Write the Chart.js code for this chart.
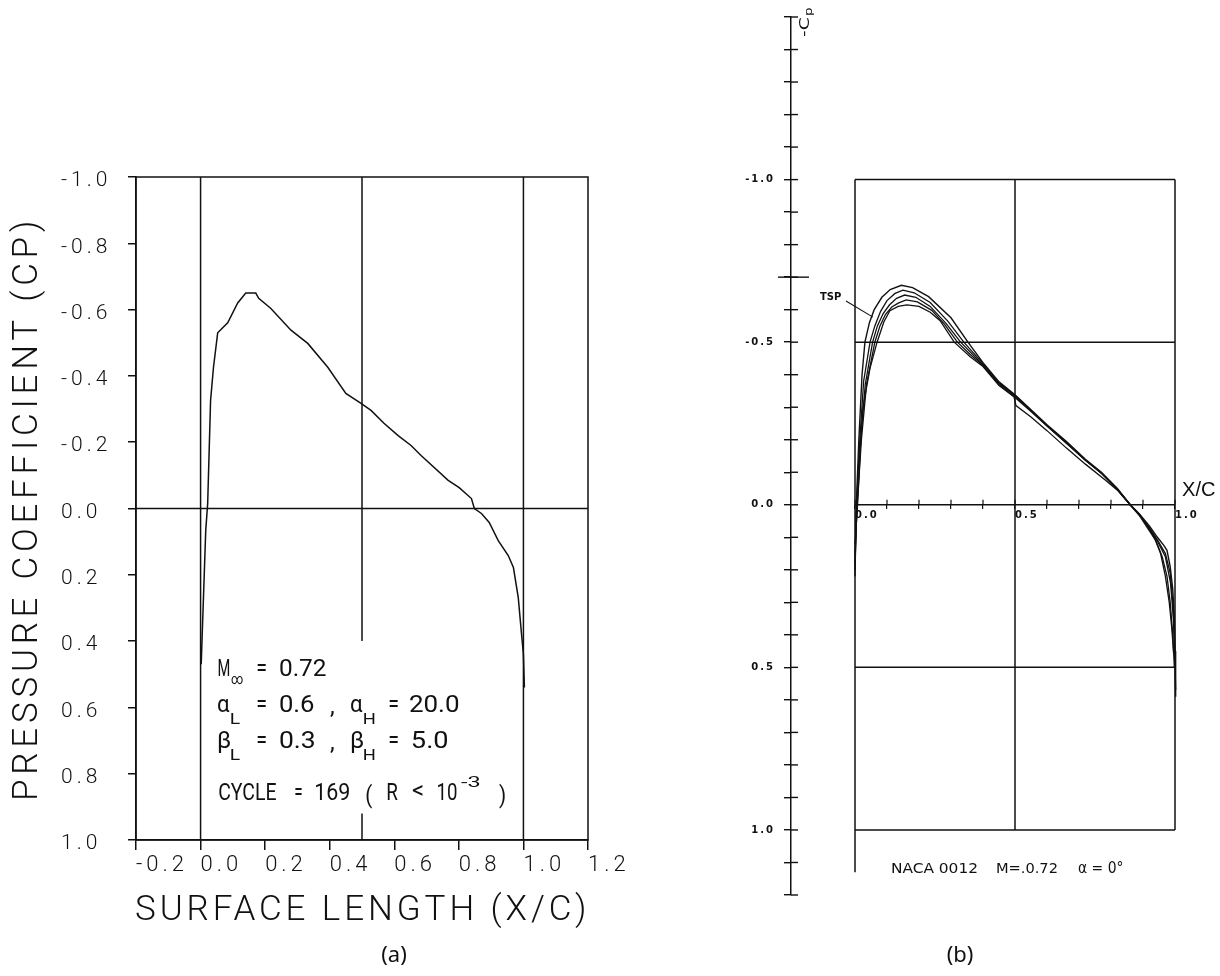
<!DOCTYPE html>
<html>
<head>
<meta charset="utf-8">
<script src="https://cdn.jsdelivr.net/npm/chart.js@4.4.1/dist/chart.umd.min.js"></script>
<style>
  html, body { margin: 0; padding: 0; background: #fff; }
  #wrap { position: relative; width: 1220px; height: 976px; overflow: hidden; background: #fff; }
  #cA { position: absolute; left: 0; top: 0; }
  #cB { position: absolute; left: 610px; top: 0; }
</style>
</head>
<body>
<div id="wrap">
  <canvas id="cA" width="650" height="976"></canvas>
  <canvas id="cB" width="610" height="976"></canvas>
</div>
<script>
// ---------------- Panel (a): pressure coefficient vs surface length ----------------
const surfaceX   = [0.002, 0.016, 0.022, 0.031, 0.040, 0.053, 0.084, 0.115, 0.140, 0.171, 0.180, 0.217, 0.280, 0.332, 0.394, 0.450, 0.497, 0.528, 0.568, 0.612, 0.652, 0.683, 0.767, 0.801, 0.839, 0.848, 0.870, 0.894, 0.922, 0.953, 0.969, 0.984, 0.994, 1.000, 1.003];
const pressureCp = [0.470, 0.066, -0.015, -0.326, -0.426, -0.530, -0.560, -0.620, -0.650, -0.650, -0.634, -0.604, -0.538, -0.498, -0.426, -0.347, -0.317, -0.296, -0.257, -0.220, -0.190, -0.160, -0.085, -0.063, -0.030, 0.000, 0.015, 0.042, 0.097, 0.142, 0.178, 0.269, 0.378, 0.440, 0.540];

const xTicksA      = [-0.2, 0.0, 0.2, 0.4, 0.6, 0.8, 1.0, 1.2];
const xTickLabelsA = ['-0.2', '0.0', '0.2', '0.4', '0.6', '0.8', '1.0', '1.2'];
const yTicksA      = [-1.0, -0.8, -0.6, -0.4, -0.2, 0.0, 0.2, 0.4, 0.6, 0.8, 1.0];
const yTickLabelsA = ['-1.0', '-0.8', '-0.6', '-0.4', '-0.2', '0.0', '0.2', '0.4', '0.6', '0.8', '1.0'];

// ---------------- Panel (b): -Cp vs x/c, NACA 0012, M = 0.72 ----------------
const tspX   = [0.000, 0.004, 0.012, 0.022, 0.031, 0.045, 0.060, 0.084, 0.110, 0.145, 0.180, 0.230, 0.300, 0.353, 0.400, 0.450, 0.500, 0.550, 0.600, 0.660, 0.720, 0.770, 0.820, 0.860, 0.890, 0.920, 0.945, 0.965, 0.975, 0.985, 0.993, 0.998, 1.000, 1.002];
const tspCp  = [0.220, 0.000, -0.200, -0.400, -0.500, -0.560, -0.600, -0.638, -0.662, -0.675, -0.668, -0.640, -0.575, -0.500, -0.437, -0.378, -0.338, -0.292, -0.246, -0.195, -0.140, -0.100, -0.050, 0.000, 0.030, 0.065, 0.100, 0.125, 0.140, 0.190, 0.260, 0.350, 0.450, 0.590];
const run2X  = [0.000, 0.005, 0.015, 0.027, 0.047, 0.062, 0.080, 0.100, 0.125, 0.150, 0.185, 0.235, 0.290, 0.340, 0.400, 0.450, 0.500, 0.550, 0.600, 0.660, 0.720, 0.770, 0.820, 0.860, 0.890, 0.920, 0.945, 0.970, 0.985, 0.994, 0.999, 1.002];
const run2Cp = [0.200, 0.000, -0.200, -0.380, -0.500, -0.550, -0.595, -0.628, -0.650, -0.660, -0.652, -0.622, -0.565, -0.500, -0.434, -0.376, -0.336, -0.290, -0.244, -0.193, -0.138, -0.098, -0.048, 0.000, 0.032, 0.070, 0.108, 0.150, 0.210, 0.310, 0.430, 0.570];
const run3X  = [0.000, 0.006, 0.018, 0.032, 0.055, 0.070, 0.088, 0.108, 0.130, 0.155, 0.190, 0.235, 0.285, 0.330, 0.400, 0.450, 0.500, 0.550, 0.600, 0.660, 0.720, 0.770, 0.820, 0.860, 0.890, 0.920, 0.945, 0.970, 0.986, 0.995, 1.000];
const run3Cp = [0.180, 0.000, -0.200, -0.370, -0.500, -0.550, -0.588, -0.615, -0.635, -0.645, -0.638, -0.610, -0.557, -0.500, -0.430, -0.373, -0.334, -0.289, -0.243, -0.190, -0.137, -0.097, -0.047, 0.000, 0.033, 0.072, 0.112, 0.160, 0.240, 0.350, 0.480];
const run4X  = [0.000, 0.007, 0.020, 0.036, 0.062, 0.078, 0.095, 0.115, 0.135, 0.160, 0.195, 0.240, 0.280, 0.320, 0.360, 0.400, 0.450, 0.497, 0.503, 0.550, 0.600, 0.660, 0.720, 0.780, 0.820, 0.860, 0.890, 0.920, 0.940, 0.960, 0.975, 0.985, 0.993, 0.998];
const run4Cp = [0.150, 0.000, -0.200, -0.370, -0.500, -0.550, -0.585, -0.608, -0.620, -0.630, -0.624, -0.598, -0.555, -0.500, -0.462, -0.428, -0.370, -0.332, -0.305, -0.270, -0.228, -0.175, -0.125, -0.078, -0.045, 0.000, 0.035, 0.080, 0.110, 0.160, 0.220, 0.300, 0.400, 0.500];
const run5X  = [0.000, 0.008, 0.018, 0.025, 0.047, 0.069, 0.090, 0.109, 0.135, 0.162, 0.200, 0.235, 0.266, 0.310, 0.360, 0.400, 0.450, 0.500, 0.550, 0.600, 0.660, 0.720, 0.770, 0.820, 0.860, 0.890, 0.920, 0.935, 0.955, 0.970, 0.982, 0.990, 0.996];
const run5Cp = [0.120, 0.000, -0.200, -0.300, -0.420, -0.500, -0.562, -0.597, -0.610, -0.615, -0.610, -0.592, -0.566, -0.500, -0.455, -0.425, -0.367, -0.330, -0.287, -0.242, -0.190, -0.137, -0.097, -0.047, 0.000, 0.030, 0.075, 0.100, 0.150, 0.220, 0.300, 0.380, 0.460];

const xTicksB      = [0.0, 0.1, 0.2, 0.3, 0.4, 0.5, 0.6, 0.7, 0.8, 0.9, 1.0];
const xTickLabelsB = ['0.0', '', '', '', '', '0.5', '', '', '', '', '1.0'];
const yTicksB      = [-1.5, -1.4, -1.3, -1.2, -1.1, -1.0, -0.9, -0.8, -0.7, -0.6, -0.5, -0.4, -0.3, -0.2, -0.1, 0.0, 0.1, 0.2, 0.3, 0.4, 0.5, 0.6, 0.7, 0.8, 0.9, 1.0, 1.1, 1.2];
const yTickLabelsB = ['', '', '', '', '', '-1.0', '', '', '', '', '-0.5', '', '', '', '', '0.0', '', '', '', '', '0.5', '', '', '', '', '1.0', '', ''];
const boxGridXB = [0.0, 0.5, 1.0];
const boxGridYB = [-1.0, -0.5, 0.0, 0.5, 1.0];
const cpCritical = -0.7;

const INK = '#111';

// ---------- text helpers ----------
function inkFit(ctx, text, x0, x1, base, font) {
  ctx.save();
  ctx.font = font; ctx.textAlign = 'left'; ctx.textBaseline = 'alphabetic';
  ctx.letterSpacing = '0px';
  ctx.fillStyle = INK;
  const m = ctx.measureText(text);
  const ink = m.actualBoundingBoxLeft + m.actualBoundingBoxRight;
  const s = ink > 0 ? (x1 - x0) / ink : 1;
  ctx.translate(x0, base);
  ctx.scale(s, 1);
  ctx.fillText(text, m.actualBoundingBoxLeft, 0);
  ctx.restore();
}
function spaced(ctx, text, x0, x1, base, font) {
  ctx.save();
  ctx.font = font; ctx.textAlign = 'left'; ctx.textBaseline = 'alphabetic';
  ctx.fillStyle = INK;
  ctx.letterSpacing = '0px';
  const m = ctx.measureText(text);
  const ink = m.actualBoundingBoxLeft + m.actualBoundingBoxRight;
  const n = Array.from(text).length;
  if ('letterSpacing' in ctx && n > 1) {
    const sp = (x1 - x0 - ink) / (n - 1);
    ctx.letterSpacing = sp.toFixed(2) + 'px';
    ctx.fillText(text, x0 + m.actualBoundingBoxLeft, base);
  } else {
    ctx.translate(x0, base);
    ctx.scale((x1 - x0) / ink, 1);
    ctx.fillText(text, m.actualBoundingBoxLeft, 0);
  }
  ctx.restore();
}

// ---------- Panel (a) plugin ----------
const panelA = {
  id: 'panelA',
  beforeUpdate(chart) { chart.ctx.letterSpacing = '4px'; },
  beforeDraw(chart) { chart.ctx.letterSpacing = '4px'; },
  beforeDatasetsDraw(chart) {
    const { ctx, chartArea: a, scales: { x, y } } = chart;
    ctx.save();
    ctx.strokeStyle = INK; ctx.lineWidth = 1.5;
    ctx.strokeRect(a.left, a.top, a.right - a.left, a.bottom - a.top);
    const seg = (x0, y0, x1, y1) => {
      ctx.beginPath();
      ctx.moveTo(x.getPixelForValue(x0), y.getPixelForValue(y0));
      ctx.lineTo(x.getPixelForValue(x1), y.getPixelForValue(y1));
      ctx.stroke();
    };
    seg(0, -1, 0, 1);
    seg(1, -1, 1, 1);
    seg(0.5, -1, 0.5, 0.4);
    seg(0.5, 0.92, 0.5, 1);
    seg(-0.2, 0, 1.2, 0);
    ctx.restore();
  },
  afterDraw(chart) {
    const ctx = chart.ctx;
    // axis titles (plotter style, widely spaced)
    spaced(ctx, 'SURFACE LENGTH (X/C)', 136, 584, 920, '300 35px Roboto');
    ctx.save();
    ctx.translate(37, 798);
    ctx.rotate(-Math.PI / 2);
    spaced(ctx, 'PRESSURE COEFFICIENT (CP)', 0, 575, 0, '300 35px Roboto');
    ctx.restore();

    // annotation block
    const F = '400 24px Roboto', S = '400 15px Roboto';
    inkFit(ctx, 'M', 218, 229, 676, F);
    inkFit(ctx, '\u221E', 231, 243, 684, S);
    inkFit(ctx, '=', 257, 266, 676, F);
    inkFit(ctx, '0.72', 280, 326, 676, F);

    inkFit(ctx, '\u03B1', 218, 230, 712, F);
    inkFit(ctx, 'L', 231, 240, 724, S);
    inkFit(ctx, '=', 257, 266, 712, F);
    inkFit(ctx, '0.6', 280, 314, 712, F);
    inkFit(ctx, ',', 330, 334, 714, F);
    inkFit(ctx, '\u03B1', 351, 363, 712, F);
    inkFit(ctx, 'H', 364, 375, 724, S);
    inkFit(ctx, '=', 389, 398, 712, F);
    inkFit(ctx, '20.0', 410, 459, 712, F);

    inkFit(ctx, '\u03B2', 218, 230, 748, F);
    inkFit(ctx, 'L', 231, 240, 760, S);
    inkFit(ctx, '=', 257, 266, 748, F);
    inkFit(ctx, '0.3', 280, 314, 748, F);
    inkFit(ctx, ',', 330, 334, 750, F);
    inkFit(ctx, '\u03B2', 351, 363, 748, F);
    inkFit(ctx, 'H', 364, 375, 760, S);
    inkFit(ctx, '=', 389, 398, 748, F);
    inkFit(ctx, '5.0', 412, 448, 748, F);

    inkFit(ctx, 'CYCLE', 219, 276, 800, F);
    inkFit(ctx, '=', 295, 302, 800, F);
    inkFit(ctx, '169', 316, 349, 800, F);
    inkFit(ctx, '(', 366, 372, 803, F);
    inkFit(ctx, 'R', 387, 398, 800, F);
    inkFit(ctx, '<', 412, 423, 798, F);
    inkFit(ctx, '10', 438, 457, 800, F);
    inkFit(ctx, '-3', 461, 480, 787, S);
    inkFit(ctx, ')', 499, 505, 803, F);

    // panel caption
    ctx.save();
    ctx.letterSpacing = '0px';
    ctx.fillStyle = INK;
    ctx.font = '22px "Noto Sans"';
    ctx.textAlign = 'center'; ctx.textBaseline = 'middle';
    ctx.fillText('(a)', 394, 956);
    ctx.restore();
  }
};

// ---------- Panel (b) plugin ----------
const panelB = {
  id: 'panelB',
  beforeUpdate(chart) { chart.ctx.letterSpacing = '2px'; },
  beforeDraw(chart) { chart.ctx.letterSpacing = '2px'; },
  beforeDatasetsDraw(chart) {
    const { ctx, chartArea: a, scales: { x, y } } = chart;
    ctx.save();
    ctx.strokeStyle = INK; ctx.lineWidth = 1.5;
    const seg = (x0, y0, x1, y1) => {
      ctx.beginPath();
      ctx.moveTo(x.getPixelForValue(x0), y.getPixelForValue(y0));
      ctx.lineTo(x.getPixelForValue(x1), y.getPixelForValue(y1));
      ctx.stroke();
    };
    boxGridXB.forEach(v => seg(v, -1.0, v, 1.0));
    seg(0, 1.0, 0, 1.13);
    boxGridYB.forEach(v => seg(0, v, 1, v));
    // inward half of y-axis tick crosses
    ctx.lineWidth = 1.4;
    yTicksB.forEach(v => {
      const py = y.getPixelForValue(v);
      ctx.beginPath(); ctx.moveTo(a.left, py); ctx.lineTo(a.left + 7, py); ctx.stroke();
    });
    // critical Cp marker
    const pc = y.getPixelForValue(cpCritical);
    ctx.beginPath(); ctx.moveTo(a.left - 13, pc); ctx.lineTo(a.left + 18, pc); ctx.stroke();
    // upward ticks on the x/c axis
    const p0 = y.getPixelForValue(0);
    ctx.lineWidth = 1.2;
    xTicksB.forEach(v => {
      const px = x.getPixelForValue(v);
      ctx.beginPath(); ctx.moveTo(px, p0); ctx.lineTo(px, p0 - 5); ctx.stroke();
    });
    ctx.restore();
  },
  afterDraw(chart) {
    const { ctx, scales: { x, y } } = chart;
    // -Cp axis label (rotated)
    ctx.save();
    ctx.translate(199, 37);
    ctx.rotate(-Math.PI / 2);
    inkFit(ctx, '-C', 0, 20, 0, '14px "DejaVu Sans"');
    inkFit(ctx, 'p', 21, 29, 3, '10px "DejaVu Sans"');
    ctx.restore();

    // TSP label + leader
    inkFit(ctx, 'TSP', 210, 231, 300, 'bold 10px "DejaVu Sans"');
    ctx.save();
    ctx.strokeStyle = INK; ctx.lineWidth = 1.1;
    ctx.beginPath();
    ctx.moveTo(236, 301);
    ctx.lineTo(x.getPixelForValue(0.056), y.getPixelForValue(-0.577));
    ctx.stroke();
    ctx.restore();

    // X/C label
    inkFit(ctx, 'X/C', 572, 605, 496, '20px "Liberation Sans"');

    // caption
    inkFit(ctx, 'NACA 0012', 282, 367, 873, '14px "DejaVu Sans"');
    inkFit(ctx, 'M=.0.72', 387, 447, 873, '14px "DejaVu Sans"');
    inkFit(ctx, '\u03B1 = 0\u00B0', 468, 513, 873, '15px "DejaVu Sans"');

    ctx.save();
    ctx.letterSpacing = '0px';
    ctx.fillStyle = INK;
    ctx.font = '22px "Noto Sans"';
    ctx.textAlign = 'center'; ctx.textBaseline = 'middle';
    ctx.fillText('(b)', 350, 956);
    ctx.restore();
  }
};

const pts = (xs, ys) => xs.map((v, i) => ({ x: v, y: ys[i] }));
const lineDs = (label, xs, ys, w) => ({
  label, data: pts(xs, ys), showLine: true, pointRadius: 0, borderColor: INK,
  borderWidth: w, fill: false, tension: 0
});

// ---------- Chart (a) ----------
new Chart(document.getElementById('cA'), {
  type: 'scatter',
  data: { datasets: [ lineDs('Cp', surfaceX, pressureCp, 1.5) ] },
  options: {
    responsive: false, animation: false,
    layout: { padding: { left: 61, top: 177, right: 62, bottom: 96 } },
    plugins: { legend: { display: false }, tooltip: { enabled: false } },
    scales: {
      x: {
        type: 'linear', min: -0.2, max: 1.2,
        afterBuildTicks: s => { s.ticks = xTicksA.map(v => ({ value: v })); },
        afterFit: s => { s.height = 40; s.paddingLeft = 0; s.paddingRight = 0; },
        ticks: {
          callback: (v, i) => xTickLabelsA[i], align: 'start', padding: 2,
          maxRotation: 0, minRotation: 0, autoSkip: false,
          color: INK, font: { family: 'Roboto', size: 22, weight: '300' }
        },
        grid: { display: true, drawOnChartArea: false, drawTicks: true, tickLength: 10, color: INK, lineWidth: 1.5 },
        border: { display: true, color: INK, width: 1.5 }
      },
      y: {
        type: 'linear', reverse: true, min: -1, max: 1,
        afterBuildTicks: s => { s.ticks = yTicksA.map(v => ({ value: v })); },
        afterFit: s => { s.width = 75; },
        ticks: {
          callback: (v, i) => yTickLabelsA[i], crossAlign: 'far', labelOffset: 4, padding: 6,
          autoSkip: false, color: INK, font: { family: 'Roboto', size: 21, weight: '300' }
        },
        grid: { display: true, drawOnChartArea: false, drawTicks: true, tickLength: 8, color: INK, lineWidth: 1.5 },
        border: { display: true, color: INK, width: 1.5 }
      }
    }
  },
  plugins: [panelA]
});

// ---------- Chart (b) ----------
new Chart(document.getElementById('cB'), {
  type: 'scatter',
  data: {
    datasets: [
      lineDs('TSP', tspX, tspCp, 1.4),
      lineDs('Solution 2', run2X, run2Cp, 1.3),
      lineDs('Solution 3', run3X, run3Cp, 1.3),
      lineDs('Solution 4', run4X, run4Cp, 1.3),
      lineDs('Solution 5', run5X, run5Cp, 1.3)
    ]
  },
  options: {
    responsive: false, animation: false,
    layout: { padding: { left: 100, top: 17, right: 13, bottom: 81 } },
    plugins: { legend: { display: false }, tooltip: { enabled: false } },
    scales: {
      x: {
        type: 'linear', min: -0.2, max: 1.1, position: { y: 0 },
        afterBuildTicks: s => { s.ticks = xTicksB.map(v => ({ value: v })); },
        afterFit: s => { s.paddingLeft = 0; s.paddingRight = 0; },
        ticks: {
          callback: (v, i) => xTickLabelsB[i], align: 'start', padding: 1,
          maxRotation: 0, minRotation: 0, autoSkip: false,
          color: INK, font: { family: 'DejaVu Sans', size: 10, weight: 'bold' }
        },
        grid: { display: true, drawOnChartArea: false, drawTicks: true, tickLength: 4, color: INK, lineWidth: 1.2 },
        border: { display: false }
      },
      y: {
        type: 'linear', reverse: true, min: -1.5, max: 1.2,
        afterBuildTicks: s => { s.ticks = yTicksB.map(v => ({ value: v })); },
        afterFit: s => { s.width = 81; },
        ticks: {
          callback: (v, i) => yTickLabelsB[i], crossAlign: 'near', padding: 9,
          autoSkip: false, color: INK, font: { family: 'DejaVu Sans', size: 10, weight: 'bold' }
        },
        grid: { display: true, drawOnChartArea: false, drawTicks: true, tickLength: 7, color: INK, lineWidth: 1.4 },
        border: { display: true, color: INK, width: 1.5 }
      }
    }
  },
  plugins: [panelB]
});
</script>
</body>
</html>
